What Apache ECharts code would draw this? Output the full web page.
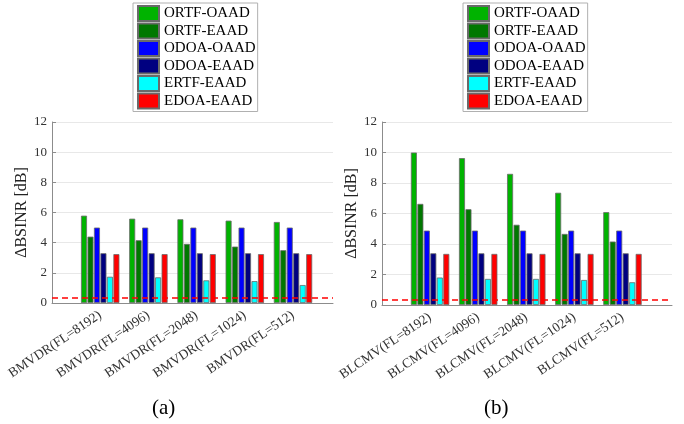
<!DOCTYPE html>
<html>
<head>
<meta charset="utf-8">
<script src="https://cdn.jsdelivr.net/npm/echarts@6/dist/echarts.min.js"></script>
<style>
  html, body { margin: 0; padding: 0; background: #fff; }
  #chart { width: 684px; height: 424px; }
</style>
</head>
<body>
<div id="chart"></div>
<script>
// categories
const groupsA = ['BMVDR(FL=8192)', 'BMVDR(FL=4096)', 'BMVDR(FL=2048)', 'BMVDR(FL=1024)', 'BMVDR(FL=512)']
const groupsB = ['BLCMV(FL=8192)', 'BLCMV(FL=4096)', 'BLCMV(FL=2048)', 'BLCMV(FL=1024)', 'BLCMV(FL=512)']
const methods = ['ORTF-OAAD', 'ORTF-EAAD', 'ODOA-OAAD', 'ODOA-EAAD', 'ERTF-EAAD', 'EDOA-EAAD']
const colors = ['#00b300', '#007800', '#0000ff', '#000080', '#00ffff', '#ff0000']

// (a) values, one array per method
const ortfOaadA = [5.79, 5.59, 5.55, 5.46, 5.37]
const ortfEaadA = [4.40, 4.16, 3.92, 3.74, 3.50]
const odoaOaadA = [5.00, 5.00, 5.00, 5.00, 5.00]
const odoaEaadA = [3.30, 3.30, 3.30, 3.30, 3.30]
const ertfEaadA = [1.74, 1.70, 1.50, 1.45, 1.19]
const edoaEaadA = [3.24, 3.24, 3.24, 3.24, 3.24]
const dashA = 0.35

// (b) values
const ortfOaadB = [10.0, 9.63, 8.60, 7.36, 6.09]
const ortfEaadB = [6.63, 6.28, 5.26, 4.66, 4.16]
const odoaOaadB = [4.88, 4.88, 4.88, 4.88, 4.88]
const odoaEaadB = [3.39, 3.39, 3.39, 3.39, 3.39]
const ertfEaadB = [1.80, 1.71, 1.71, 1.64, 1.49]
const edoaEaadB = [3.35, 3.35, 3.35, 3.35, 3.35]
const dashB = 0.33

const yTicks = { min: 0, max: 12, interval: 2 }

const valuesA = [ortfOaadA, ortfEaadA, odoaOaadA, odoaEaadA, ertfEaadA, edoaEaadA]
const valuesB = [ortfOaadB, ortfEaadB, odoaOaadB, odoaEaadB, ertfEaadB, edoaEaadB]

const serif = 'Liberation Serif'

function makeSeries(values, idx, dash) {
  return values.map((vals, i) => {
    const s = {
      name: methods[i],
      type: 'bar',
      xAxisIndex: idx,
      yAxisIndex: idx,
      barWidth: 6,
      barGap: '8%',
      data: vals.map((v, k) => [k + 1, v]),
      itemStyle: { color: colors[i], borderColor: '#6a6a6a', borderWidth: 0.8 },
    }
    if (i === 0) {
      s.markLine = {
        silent: true,
        symbol: ['none', 'none'],
        label: { show: false },
        lineStyle: { color: '#ff0000', type: [6, 4], width: 1.5 },
        data: [{ yAxis: dash }],
      }
    }
    return s
  })
}

function makeXAxis(idx, max, labels) {
  return {
    type: 'value',
    gridIndex: idx,
    min: 0,
    max: max,
    interval: 1,
    axisLine: { lineStyle: { color: '#8c8c8c' } },
    axisTick: { show: false },
    splitLine: { show: false },
    axisLabel: {
      rotate: 34,
      margin: 11,
      fontSize: 13.5,
      fontFamily: serif,
      color: '#333',
      showMaxLabel: false,
      formatter: v => labels[v - 1] || '',
    },
  }
}

function makeYAxis(idx) {
  return {
    type: 'value',
    gridIndex: idx,
    min: yTicks.min,
    max: yTicks.max,
    interval: yTicks.interval,
    name: 'ΔBSINR [dB]',
    nameLocation: 'middle',
    nameGap: 21,
    nameTextStyle: { fontSize: 16, fontFamily: serif, color: '#222' },
    axisLine: { show: true, lineStyle: { color: '#8c8c8c' } },
    axisTick: { show: true, inside: true, length: 4, lineStyle: { color: '#8c8c8c' } },
    axisLabel: { fontSize: 13, fontFamily: serif, color: '#333', margin: 5 },
    splitLine: { lineStyle: { color: '#e8e8e8' } },
  }
}

function makeLegend(left) {
  return {
    orient: 'vertical',
    left: left,
    top: 3,
    data: methods,
    itemWidth: 21,
    itemHeight: 15,
    itemGap: 0.5,
    padding: [2, 2, 2, 4],
    borderColor: '#b0b0b0',
    borderWidth: 1,
    backgroundColor: '#fff',
    icon: 'rect',
    textStyle: { fontSize: 15, lineHeight: 15, fontFamily: serif, color: '#000' },
  }
}

const chart = echarts.init(document.getElementById('chart'))
chart.setOption({
  animation: false,
  title: [
    { text: '(a)', left: 152, top: 398, padding: 0, textStyle: { fontSize: 21, fontWeight: 'normal', fontFamily: serif, color: '#000' } },
    { text: '(b)', left: 484, top: 398, padding: 0, textStyle: { fontSize: 21, fontWeight: 'normal', fontFamily: serif, color: '#000' } },
  ],
  legend: [makeLegend(133), makeLegend(463)],
  grid: [
    { left: 52, top: 122, width: 281, height: 181 },
    { left: 382, top: 122, width: 290, height: 183 },
  ],
  xAxis: [makeXAxis(0, 5.83, groupsA), makeXAxis(1, 6.03, groupsB)],
  yAxis: [makeYAxis(0), makeYAxis(1)],
  series: [...makeSeries(valuesA, 0, dashA), ...makeSeries(valuesB, 1, dashB)],
})
</script>
</body>
</html>
